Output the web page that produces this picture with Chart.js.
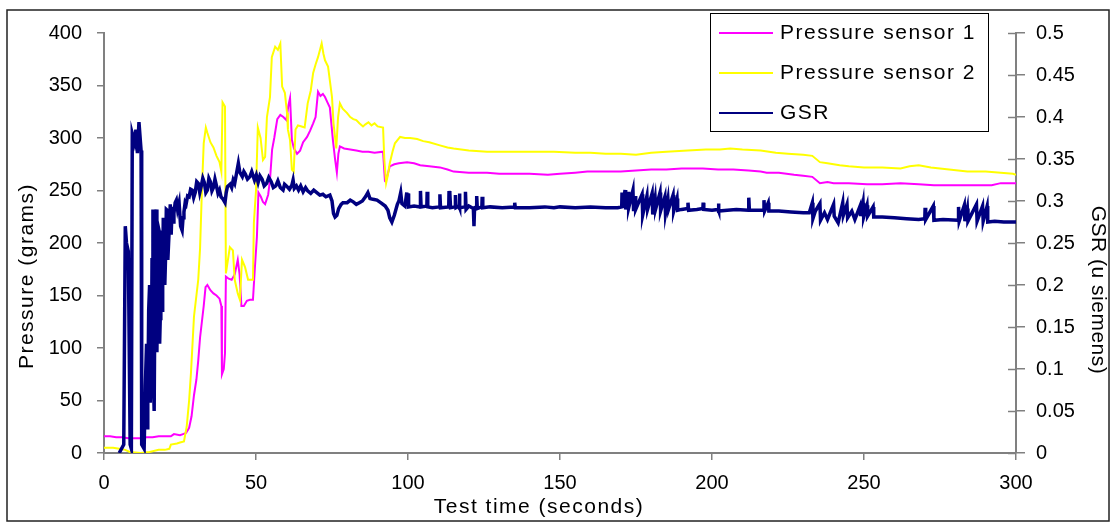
<!DOCTYPE html>
<html>
<head>
<meta charset="utf-8">
<script src="https://cdn.jsdelivr.net/npm/chart.js@4.4.0/dist/chart.umd.min.js"></script>
<style>
  body { margin: 0; background: #fff; }
  canvas { display: block; }
</style>
</head>
<body>
<canvas id="chart" width="1115" height="524"></canvas>
<script>
// series as [time (s), value] pairs
var pressure1 = [
  [0,16],[2,16],[4,15],[6,15],[8,14],[10,14],[12,14],[14,15],[16,15],[18,16],[20,16],[22,16],[23,18],[25,17],[26,18],
  [27,19],[28,24],[28.8,35],[29.6,55],[30.4,70],[31,88],[31.6,110],[32.2,125],[32.8,140],[33.4,158],[34,160],
  [35,155],[36,152],[37,150],[38,147],[38.6,140],[38.8,75],[39.4,80],[39.8,95],[40.1,168],[41,166],[42,165],
  [43,170],[44,184],[44.6,170],[45.2,140],[46,140],[47,145],[48,146],[49,146],[49.6,175],[50.3,206],[50.8,248],
  [51.6,244],[52.3,239],[53,237],[54,246],[54.6,260],[55.3,289],[56,300],[57,318],[58,322],[59,320],[60,317],
  [60.6,330],[61.2,338],[61.8,298],[62.5,290],[63.5,285],[64.5,288],[65.5,296],[66.8,301],[67.8,307],[68.8,314],
  [69.6,320],[70.4,344],[71.2,340],[72,342],[72.7,339],[73.5,334],[74.3,329],[75.3,298],[76,280],[76.6,267],
  [77.1,285],[77.6,292],[79,290],[81,289],[83,288],[85,287],[87,287],[89,286],[91.8,287],[92.4,260],[93,262],
  [94,273],[95.5,275],[97,276],[99.7,277],[102,276],[104,274],[107,273],[110.5,272],[113,270],[115,268],
  [120,267],[126,267],[130,266],[135,266],[140,266],[146,265],[150,266],[155,267],[159,268],[165,268],[170,268],
  [175,269],[180,270],[185,270],[190,271],[197,271],[202,270],[207,270],[212,269],[216,268],[218,267],[222,267],
  [227,265],[230,264],[233,263],[235.5,257],[238,258],[240,257],[245,257],[251,256],[256,256],[262,257],
  [268,256],[273,255],[278,255],[285,255],[292,255],[295,257],[300,257]
];

var pressure2 = [
  [0,5],[3,5],[5,4],[7,3],[8.5,1],[12,0],[15,1],[18,3],[20,3],[21.5,4],[22,8],[24,9],[25,10],[26.3,11],
  [27.2,25],[28,50],[28.6,76],[29.6,130],[30.4,150],[31,165],[31.6,195],[32.2,250],[32.8,295],[33.5,310],
  [34,305],[35,296],[36,291],[37,283],[38,277],[38.6,268],[39,334],[39.8,330],[40.1,171],[41.4,196],[42.4,193],
  [43,165],[44,152],[44.7,146],[45.4,184],[46.4,177],[47.4,165],[49,165],[49.3,219],[50,250],[50.6,310],
  [51.5,300],[52.3,279],[53,282],[53.6,320],[54.6,339],[55.2,377],[56.3,387],[57.2,384],[58,390],[58.6,349],
  [59.5,343],[60.2,324],[60.5,308],[61.2,298],[61.8,270],[62.4,268],[63,308],[63.8,312],[65,311],[66,310],
  [67,333],[68,345],[68.8,362],[69.6,370],[70.4,377],[71.6,390],[72.2,380],[72.7,374],[73.7,368],[75,339],
  [75.5,314],[76,301],[76.4,290],[77,320],[77.6,333],[78.5,328],[79.9,324],[81,320],[82,318],[83,317],[84,314],
  [85.2,311],[86,313],[87,315],[88,312],[89,314],[90,311],[91.8,310],[92.2,280],[92.8,257],[93.4,265],[94,276],
  [95,288],[95.7,295],[97.4,301],[99,300],[100.7,300],[103,299],[105,297],[107,296],[110.5,293],[113,291],
  [115,290],[120,288],[126,287],[132,287],[140,287],[148,287],[155,286],[160,286],[165,285],[170,285],[175,284],
  [180,286],[185,287],[192,288],[198,289],[202.6,289],[206,290],[210,289],[216,288],[221,286],[225,285],
  [230,284],[233,283],[235.5,277],[238,276],[242,274],[245,273],[250,272],[256,272],[262,271],[265,273],
  [268,274],[272,272],[278,270],[284,268],[290,268],[295,267],[299,266],[300,265]
];

var gsr = [
  [5,0],[6.5,0.01],[7,0.27],[7.4,0.25],[8,0.24],[8.6,0.01],[9,0.005],[9.3,0.38],[10,0.37],[10.5,0.385],
  [11,0.357],[11.5,0.394],[12.2,0.36],[12.4,0.01],[13.2,0.005],[13.6,0.08],[14,0.13],[14.2,0.03],[14.4,0.06],
  [14.7,0.17],[15,0.2],[15.2,0.06],[15.6,0.11],[15.8,0.23],[16.1,0.29],[16.3,0.08],[16.5,0.05],[16.8,0.22],
  [17.2,0.29],[17.4,0.12],[17.6,0.19],[17.8,0.27],[18.1,0.265],[18.3,0.13],[18.5,0.16],[18.7,0.26],[18.9,0.25],
  [19.1,0.17],[19.3,0.2],[19.5,0.28],[19.8,0.274],[20,0.2],[20.3,0.24],[20.5,0.29],[20.8,0.289],[21,0.23],
  [21.5,0.27],[21.8,0.296],[22.1,0.26],[22.4,0.293],[22.7,0.275],[23,0.285],[23.4,0.298],[23.8,0.301],
  [24.2,0.29],[24.7,0.298],[25.2,0.27],[25.7,0.265],[26,0.28],[26.3,0.287],[26.7,0.298],[27,0.296],[27.5,0.306],
  [28,0.305],[28.5,0.314],[29,0.313],[29.5,0.304],[30,0.31],[30.5,0.323],[31,0.321],[31.5,0.31],[32,0.318],
  [32.5,0.327],[33,0.322],[33.5,0.31],[34,0.313],[34.5,0.327],[35,0.323],[35.5,0.312],[36,0.316],[36.5,0.326],
  [37,0.318],[37.5,0.309],[38,0.313],[38.5,0.305],[39,0.303],[39.8,0.298],[40.2,0.31],[40.6,0.317],[41.5,0.32],
  [42,0.316],[42.5,0.325],[43,0.321],[43.6,0.333],[44.2,0.345],[44.7,0.334],[45.5,0.329],[46,0.335],[46.5,0.332],
  [47.2,0.326],[48,0.329],[48.6,0.335],[49.5,0.325],[50.1,0.331],[50.7,0.322],[51.3,0.33],[52,0.326],[52.7,0.318],
  [53.5,0.321],[54.2,0.328],[55,0.323],[55.7,0.316],[56.5,0.318],[57.2,0.324],[58,0.316],[58.9,0.313],[59.4,0.32],
  [60,0.318],[61,0.314],[61.8,0.319],[62.2,0.325],[62.6,0.315],[63.3,0.318],[64,0.313],[64.7,0.318],[65.5,0.311],
  [66.3,0.316],[67,0.312],[68,0.309],[69,0.313],[70,0.31],[71,0.307],[72,0.308],[73,0.305],[74.3,0.307],
  [75,0.3],[75.5,0.285],[76,0.281],[76.6,0.283],[77.2,0.291],[78,0.296],[78.6,0.298],[80,0.298],[81,0.301],
  [82,0.299],[83,0.296],[84,0.298],[85,0.3],[86,0.305],[86.8,0.31],[87.5,0.303],[88.5,0.302],[89.8,0.301],
  [91,0.298],[92.5,0.294],[93.4,0.289],[94,0.28],[94.7,0.275],[95.5,0.283],[96.5,0.296],[97,0.3],[97.6,0.31],
  [98,0.297],[99,0.294],[99.6,0.31],[99.8,0.294],[100,0.309],[100.2,0.293],[102,0.294],[104,0.293],[104.1,0.312],
  [104.3,0.293],[106.2,0.294],[106.3,0.311],[106.5,0.293],[108,0.292],[110.4,0.293],[110.5,0.308],[110.7,0.292],
  [113.4,0.293],[113.5,0.312],[113.7,0.294],[113.8,0.31],[114,0.292],[115.5,0.293],[115.6,0.307],[115.8,0.292],
  [116.8,0.294],[116.9,0.309],[117.1,0.292],[118.8,0.293],[118.9,0.311],[119.1,0.29],[120,0.294],[121.5,0.291],
  [121.7,0.27],[121.9,0.292],[122.5,0.293],[122.6,0.306],[122.8,0.291],[124.3,0.293],[124.4,0.305],[124.6,0.292],
  [127,0.293],[131,0.292],[135,0.293],[135.1,0.298],[135.3,0.292],[140,0.292],[145,0.293],[148,0.292],[150,0.293],
  [155,0.292],[160,0.293],[165,0.292],[169,0.292],[170.3,0.293],[170.4,0.31],[170.6,0.292],[171.4,0.313],
  [171.6,0.29],[172.4,0.311],[172.6,0.292],[174,0.313],[174.2,0.288],[174.7,0.306],[174.9,0.29],[177,0.308],
  [177.2,0.283],[178.6,0.306],[178.8,0.29],[180.3,0.309],[180.5,0.284],[181.3,0.303],[181.5,0.291],[182.9,0.31],
  [183.1,0.288],[184.5,0.305],[184.7,0.285],[185.5,0.302],[185.7,0.29],[187.2,0.307],[187.4,0.288],[188.5,0.303],
  [188.7,0.289],[190,0.29],[192,0.291],[192.1,0.298],[192.3,0.289],[195,0.29],[197,0.291],[197.1,0.298],
  [197.3,0.29],[200,0.289],[202,0.29],[202.1,0.297],[202.3,0.288],[205,0.289],[208,0.29],[212,0.289],
  [212.1,0.304],[212.3,0.289],[217,0.289],[217.1,0.301],[217.3,0.288],[218.5,0.298],[218.7,0.288],[222,0.288],
  [226,0.287],[230,0.286],[232,0.286],[233,0.298],[233.2,0.279],[234,0.288],[235.5,0.297],[235.7,0.277],
  [237,0.286],[238,0.278],[240,0.296],[240.2,0.282],[241.5,0.274],[243,0.298],[243.2,0.283],[244.4,0.296],
  [244.6,0.28],[246,0.288],[247,0.278],[248.7,0.294],[248.9,0.282],[249.7,0.298],[249.9,0.281],[251,0.295],
  [251.2,0.282],[253,0.293],[253.2,0.281],[256,0.281],[260,0.28],[264,0.279],[268,0.278],[270,0.279],
  [270.1,0.292],[270.3,0.278],[272.8,0.294],[273,0.277],[276,0.278],[281,0.277],[281.1,0.293],[281.3,0.276],
  [283,0.295],[283.2,0.276],[284,0.291],[284.2,0.276],[287,0.296],[287.2,0.276],[289,0.294],[289.2,0.276],
  [290.5,0.294],[290.7,0.275],[293,0.276],[296,0.275],[300,0.275]
];

var seriesNames = ['Pressure sensor 1', 'Pressure sensor 2', 'GSR'];
var seriesColors = ['#FF00FF', '#FFFF00', '#000080'];

function toPoints(arr) {
  return arr.map(function (p) { return { x: p[0], y: p[1] }; });
}

Chart.defaults.font.family = '"Liberation Sans", Arial, sans-serif';
Chart.defaults.color = '#000';

// legend box inside the plot, drawn like the original (bordered, top right)
var boxLegend = {
  id: 'boxLegend',
  afterDraw: function (chart) {
    var ctx = chart.ctx;
    ctx.save();
    ctx.fillStyle = '#fff';
    ctx.fillRect(710, 13, 278, 118);
    ctx.strokeStyle = '#000';
    ctx.lineWidth = 1;
    ctx.strokeRect(710.5, 13.5, 278, 118);
    ctx.font = '21px "Liberation Sans", Arial, sans-serif';
    ctx.letterSpacing = '1.5px';
    ctx.textBaseline = 'middle';
    ctx.fillStyle = '#000';
    var rows = [33, 73, 113];
    for (var i = 0; i < seriesNames.length; i++) {
      ctx.strokeStyle = seriesColors[i];
      ctx.lineWidth = 2;
      ctx.beginPath();
      ctx.moveTo(719, rows[i]);
      ctx.lineTo(773, rows[i]);
      ctx.stroke();
      ctx.fillText(seriesNames[i], 780, rows[i]);
    }
    ctx.restore();
  }
};

// axis titles + outer frame + inner half of the right-axis ticks
var frameAndTitles = {
  id: 'frameAndTitles',
  afterDraw: function (chart) {
    var ctx = chart.ctx;
    var area = chart.chartArea;
    ctx.save();
    ctx.strokeStyle = '#222';
    ctx.lineWidth = 1.5;
    ctx.strokeRect(7, 10, 1102, 511);

    var r = chart.scales.y1;
    ctx.strokeStyle = '#808080';
    ctx.lineWidth = 1.5;
    r.ticks.forEach(function (t) {
      var y = Math.round(r.getPixelForValue(t.value)) + 0.5;
      ctx.beginPath();
      ctx.moveTo(area.right - 8, y);
      ctx.lineTo(area.right, y);
      ctx.stroke();
    });

    ctx.fillStyle = '#000';
    ctx.font = '21px "Liberation Sans", Arial, sans-serif';
    ctx.letterSpacing = '1.5px';
    ctx.textAlign = 'center';
    ctx.textBaseline = 'middle';
    ctx.fillText('Test time (seconds)', 539, 507);

    ctx.save();
    ctx.translate(27, 276);
    ctx.rotate(-Math.PI / 2);
    ctx.fillText('Pressure (grams)', 0, 0);
    ctx.restore();

    ctx.letterSpacing = '0.5px';
    ctx.save();
    ctx.translate(1098, 290);
    ctx.rotate(Math.PI / 2);
    ctx.fillText('GSR (u siemens)', 0, 0);
    ctx.restore();
    ctx.restore();
  }
};

var axisGrid = { drawOnChartArea: false, color: '#808080', lineWidth: 1.5, tickLength: 7 };
var axisBorder = { color: '#808080', width: 2 };

new Chart(document.getElementById('chart'), {
  type: 'line',
  data: {
    datasets: [
      { label: seriesNames[0], data: toPoints(pressure1), borderColor: seriesColors[0], borderWidth: 2, yAxisID: 'y', order: 2 },
      { label: seriesNames[1], data: toPoints(pressure2), borderColor: seriesColors[1], borderWidth: 2, yAxisID: 'y', order: 1 },
      { label: seriesNames[2], data: toPoints(gsr), borderColor: seriesColors[2], borderWidth: 3.5, yAxisID: 'y1', order: 0 }
    ]
  },
  options: {
    responsive: false,
    animation: false,
    layout: { padding: { top: 33, left: 0, right: 0, bottom: 0 } },
    elements: { point: { radius: 0 }, line: { tension: 0, fill: false } },
    plugins: { legend: { display: false }, tooltip: { enabled: false } },
    scales: {
      x: {
        type: 'linear', min: 0, max: 300,
        ticks: { stepSize: 50, padding: 11, maxRotation: 0, font: { size: 20 } },
        grid: axisGrid, border: axisBorder,
        afterFit: function (s) { s.height = 71; }
      },
      y: {
        position: 'left', min: 0, max: 400,
        ticks: { stepSize: 50, padding: 15, font: { size: 20 } },
        grid: axisGrid, border: axisBorder,
        afterFit: function (s) { s.width = 104; }
      },
      y1: {
        position: 'right', min: 0, max: 0.5,
        ticks: { stepSize: 0.05, padding: 11, font: { size: 20 },
          callback: function (v) { return String(Number(v.toFixed(2))); } },
        grid: { drawOnChartArea: false, color: '#808080', lineWidth: 1.5, tickLength: 9 },
        border: axisBorder,
        afterFit: function (s) { s.width = 99; }
      }
    }
  },
  plugins: [boxLegend, frameAndTitles]
});
</script>
</body>
</html>
